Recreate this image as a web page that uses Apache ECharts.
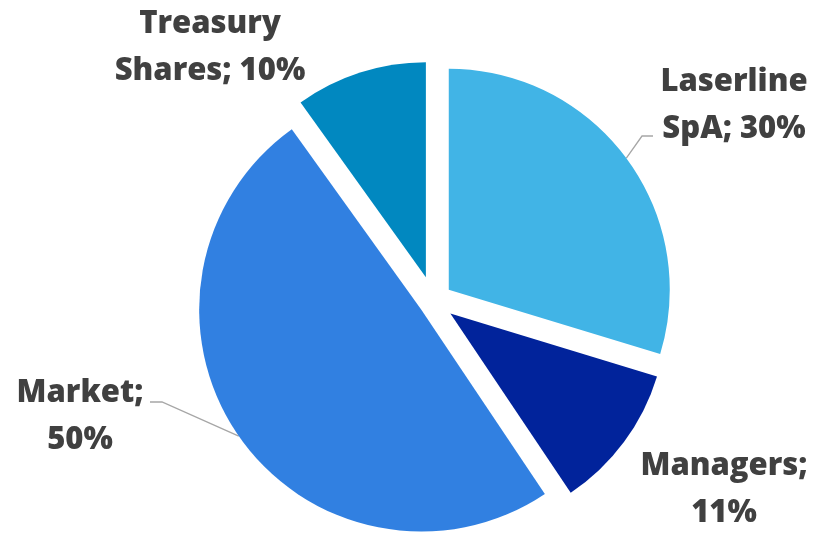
<!DOCTYPE html>
<html>
<head>
<meta charset="utf-8">
<script src="https://cdn.jsdelivr.net/npm/echarts@6/dist/echarts.min.js"></script>
<style>html,body{margin:0;padding:0;background:#fff;}#c{width:820px;height:533px;}</style>
</head>
<body>
<div id="c"></div>
<script>
// ---- data ----
const categories = ['Laserline SpA', 'Managers', 'Market', 'Treasury Shares'];
const labelNames = ['Laserline\nSpA', 'Managers;\n', 'Market;\n', 'Treasury\nShares'];
const values = [30, 11, 50, 10];

// ---- style / layout ----
const colors = ['#41B4E6', '#01239B', '#3180E1', '#0188C0'];
const showLines = [true, false, true, false];
const explode = [19, 21, 15, 25];        // px each slice is pulled out
const radii = [221, 216, 222, 215];
const baseCenter = [433.5, 301];
const labelPos = [[734, 106], [724, 490], [80, 417], [210, 48]];
// where the leader line meets the label, and its horizontal tail length
const lineEnd = [[653, 136], null, [150, 402], null];
const tail = [11, 0, -12, 0];

const total = values.reduce((a, b) => a + b, 0);
let acc = 0;
const centers = values.map((v, i) => {
  const mid = (acc + v / 2) / total * 2 * Math.PI;
  acc += v;
  return [baseCenter[0] + explode[i] * Math.sin(mid), baseCenter[1] - explode[i] * Math.cos(mid)];
});

const chart = echarts.init(document.getElementById('c'), null, {renderer: 'canvas'});
const series = categories.map((own, k) => ({
  type: 'pie',
  center: centers[k],
  radius: [0, radii[k]],
  startAngle: 90,
  clockwise: true,
  silent: true,
  emphasis: {disabled: true},
  label: {
    show: true,
    position: 'outside',
    overflow: 'none',
    formatter: p => {
      const i = p.dataIndex;
      const n = labelNames[i];
      return n.endsWith('\n') ? n + values[i] + '%' : n + '; ' + values[i] + '%';
    },
    color: '#404040',
    fontFamily: 'Open Sans',
    fontWeight: 800,
    fontSize: 31,
    lineHeight: 47,
    align: 'center'
  },
  labelLine: {show: showLines[k], length: 15, length2: 10, lineStyle: {color: '#A6A6A6', width: 1.3}},
  labelLayout: p => {
    const i = p.dataIndex;
    const res = {x: labelPos[i][0], y: labelPos[i][1], align: 'center', verticalAlign: 'middle'};
    if (lineEnd[i] && p.labelLinePoints) {
      const e = lineEnd[i];
      res.labelLinePoints = [p.labelLinePoints[0], [e[0] - tail[i], e[1]], e];
    }
    return res;
  },
  data: categories.map((c, i) => i === k ? {
    name: c, value: values[i], itemStyle: {color: colors[i]}
  } : {
    name: c, value: values[i], itemStyle: {color: 'rgba(0,0,0,0)'},
    label: {show: false}, labelLine: {show: false}
  })
}));
chart.setOption({animation: false, series: series});
</script>
</body>
</html>
